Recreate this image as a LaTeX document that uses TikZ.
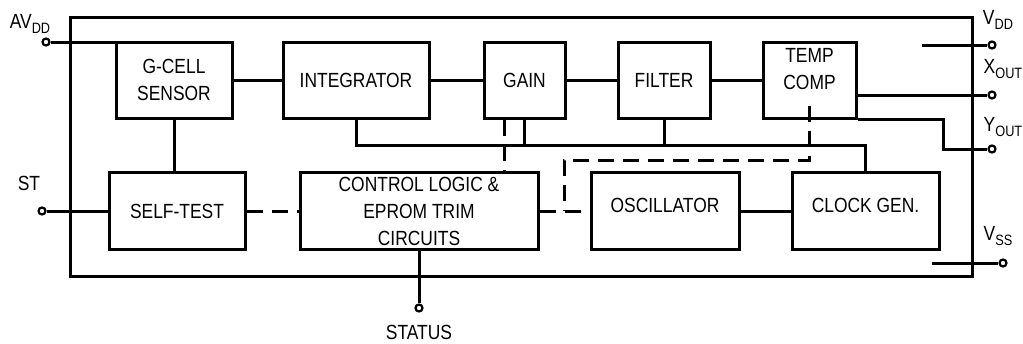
\documentclass[tikz,border=0pt]{standalone}
\usepackage{fontspec}
\setmainfont[FakeStretch=0.85]{Liberation Sans}
\newcommand{\pinname}[2]{#1\raisebox{-5pt}{\fontsize{15}{15}\selectfont #2}}
\tikzset{
  block/.style={draw, line width=3pt, align=center, inner sep=0pt},
  raised/.style={text depth=12pt},
  pin/.style={circle, draw, fill=white, line width=2.2pt, inner sep=0pt, minimum size=7pt},
  wire/.style={line width=3pt},
  dashwire/.style={line width=3pt, dash pattern=on 16pt off 9pt},
}

\begin{document}
\begin{tikzpicture}[x=1pt, y=-1pt, font=\fontsize{20.5}{27}\selectfont]
    \useasboundingbox (0,0) rectangle (1023,343);
    % chip outline
    \draw[wire] (70,17) rectangle (972,276);
    % signal path
    \node[block, minimum width=116pt, minimum height=76pt] (gcell) at (174,80) {G-CELL\\SENSOR};
    \node[block, minimum width=146pt, minimum height=76pt] (integ) at (356,80) {INTEGRATOR};
    \node[block, minimum width=81pt, minimum height=76pt] (gain) at (524.5,80) {GAIN};
    \node[block, minimum width=92pt, minimum height=76pt] (filter) at (664,80) {FILTER};
    \node[block, minimum width=93pt, minimum height=76pt] (tcomp) at (809.5,80) {TEMP\\COMP\\[-4pt]};
    \node[block, minimum width=136pt, minimum height=77pt] (selftest) at (177,211) {SELF-TEST};
    \node[block, minimum width=238pt, minimum height=77pt] (ctrl) at (419,211) {CONTROL LOGIC \&\\EPROM TRIM\\CIRCUITS};
    \node[block, raised, minimum width=148pt, minimum height=77pt] (osc) at (665,211) {OSCILLATOR};
    \node[block, raised, minimum width=147pt, minimum height=77pt] (clock) at (865.5,211) {CLOCK GEN.};
    % pins
    \node[pin] (avdd) at (46,42) {};
    \node[pin] (st) at (42,211) {};
    \node[pin] (status) at (419,308) {};
    \node[pin] (vdd) at (992,45) {};
    \node[pin] (xout) at (992,95) {};
    \node[pin] (yout) at (992,149) {};
    \node[pin] (vss) at (1003,263) {};
    \node (avddlbl) at (30,24) {\pinname{AV}{DD}};
    \node (stlbl) at (29,183) {ST};
    \node[inner sep=1pt] (statuslbl) at (419,332) {STATUS};
    \node (vddlbl) at (998,20) {\pinname{V}{DD}};
    \node (xoutlbl) at (1003,69) {\pinname{X}{OUT}};
    \node (youtlbl) at (1003,127) {\pinname{Y}{OUT}};
    \node (vsslbl) at (998,236) {\pinname{V}{SS}};
    \coordinate (vddend) at (922,45);
    \coordinate (vssend) at (932,263);
    \coordinate (ybend) at (943,149);
    \coordinate (busr) at (clock.north |- 0,145);
    \coordinate (tcbend) at (564,160);
    % wiring
    \draw[wire] (avdd) -- (avdd -| gcell.west);
    \draw[wire] (gcell) -- (integ);
    \draw[wire] (integ) -- (gain);
    \draw[wire] (gain) -- (filter);
    \draw[wire] (filter) -- (tcomp);
    \draw[wire] ([yshift=-15pt]tcomp.east) -- (xout);
    \draw[wire] (tcomp.south east) -| (ybend) -- (yout);
    \draw[wire] (vddend) -- (vdd);
    \draw[wire] (vssend) -- (vss);
    \draw[wire] (gcell.south) -- (gcell.south |- selftest.north);
    \draw[wire] (st) -- (selftest);
    \draw[wire] (integ.south) |- (busr) -- (clock.north);
    \draw[wire] (gain.south) -- (gain.south |- busr);
    \draw[wire] (filter.south) -- (filter.south |- busr);
    \draw[wire] (osc) -- (clock);
    \draw[wire] (ctrl.south) -- (status);
    % control lines
    \draw[dashwire] (selftest) -- (ctrl);
    \draw[dashwire] (ctrl) -- (osc);
    \draw[dashwire] ([xshift=-20pt]gain.south) -- ([xshift=-20pt]gain.south |- ctrl.north);
    \draw[dashwire] ([yshift=14pt]tcomp.south) |- (tcbend) -- (tcbend |- osc.west);
  \end{tikzpicture}
\end{document}
